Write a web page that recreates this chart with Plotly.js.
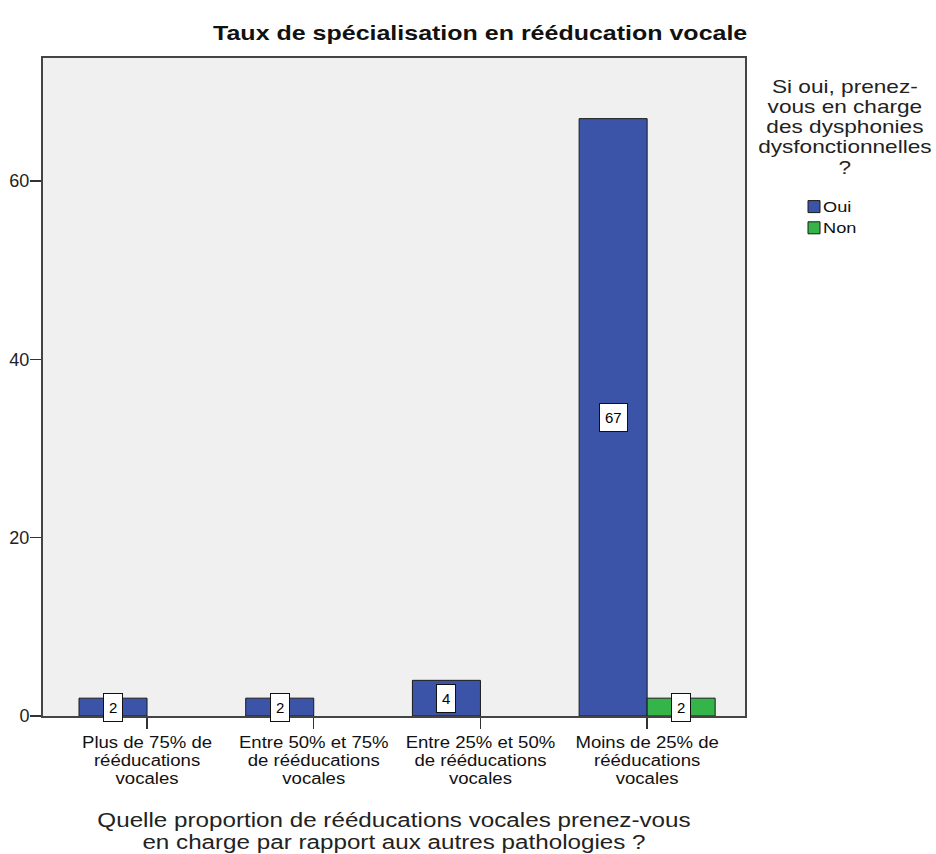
<!DOCTYPE html>
<html><head><meta charset="utf-8">
<script src="https://cdn.plot.ly/plotly-3.0.1.min.js"></script>
<style>body{margin:0;background:#fff}#c{width:936px;height:854px}</style>
</head><body><div id="c"></div>
<script>
const categories = ["Plus de 75% de<br>rééducations<br>vocales","Entre 50% et 75%<br>de rééducations<br>vocales","Entre 25% et 50%<br>de rééducations<br>vocales","Moins de 25% de<br>rééducations<br>vocales"];
const oui = [2, 2, 4, 67];
const non = [null, null, null, 2];
const seriesNames = ["Oui", "Non"];
const legendTitle = 'Si oui, prenez-<br>vous en charge<br>des dysphonies<br>dysfonctionnelles<br>?';
const xTitle = 'Quelle proportion de rééducations vocales prenez-vous<br>en charge par rapport aux autres pathologies ?';
const chartTitle = 'Taux de spécialisation en rééducation vocale';
const yTicks = [0, 20, 40, 60];
const colors = ["#3c54a8", "#35b44a"];
const idx = categories.map((_, i) => i);
const barW = 0.408;
const FONT = 'Liberation Sans, Arial, sans-serif';

const traces = [oui, non].map((vals, k) => ({
  type: 'bar', x: idx, y: vals, name: seriesNames[k],
  marker: {color: colors[k], line: {color: '#1a1a1a', width: 1}},
  hoverinfo: 'skip'
}));

const annotations = [];
[oui, non].forEach((vals, k) => {
  vals.forEach((v, i) => {
    if (v) annotations.push({
      x: i + (k === 0 ? -barW/2 : barW/2), y: v/2, xref: 'x', yref: 'y',
      text: String(v), showarrow: false, bgcolor: '#ffffff', bordercolor: '#111',
      borderwidth: 1, borderpad: 5, font: {family: FONT, size: 15, color: '#000'}
    });
  });
});
const legendTitleIndex = annotations.length;
annotations.push({
  xref: 'paper', yref: 'paper', x: (845-43)/702, y: (716-74)/658, xanchor: 'center', yanchor: 'top',
  text: legendTitle, showarrow: false, align: 'center',
  font: {family: FONT, size: 19, color: '#222'}
});

const layout = {
  width: 936, height: 854,
  margin: {l: 43, r: 191, t: 58, b: 138},
  paper_bgcolor: '#ffffff', plot_bgcolor: '#f0f0f0',
  title: {text: '<b>' + chartTitle + '</b>', x: 0.513, xanchor: 'center', y: 0.962, yanchor: 'middle',
    font: {family: FONT, size: 21, color: '#111'}},
  barmode: 'group', bargap: 0.184, bargroupgap: 0,
  showlegend: true,
  legend: {x: (794-43)/702, xanchor: 'left', y: (716-191)/658, yanchor: 'top', bgcolor: 'rgba(0,0,0,0)',
    font: {family: FONT, size: 14, color: '#111'}, tracegroupgap: 0, itemwidth: 30},
  xaxis: {
    range: [-0.624, 3.587], tickmode: 'array', tickvals: idx, ticktext: categories,
    ticks: 'outside', ticklen: 11, tickwidth: 1.5, tickcolor: '#333',
    showline: true, linecolor: '#444', linewidth: 2, mirror: true, showgrid: false, zeroline: false,
    tickfont: {family: FONT, size: 16, color: '#111'},
    title: {text: xTitle, font: {family: FONT, size: 20, color: '#222'}, standoff: 23}
  },
  yaxis: {
    range: [0, 73.8], tickvals: yTicks, ticks: 'outside', ticklen: 11, tickwidth: 1.5, tickcolor: '#333',
    showline: true, linecolor: '#444', linewidth: 2, mirror: true, showgrid: false, zeroline: false,
    ticklabelstandoff: -3,
    tickfont: {family: FONT, size: 18, color: '#222'}
  },
  annotations: annotations
};

function stretchText(el, factor, lineEm) {
  const lines = el.querySelectorAll('tspan.line');
  if (lines.length) {
    lines.forEach((ln, i) => {
      if (lineEm != null) ln.setAttribute('dy', (i * lineEm) + 'em');
      const w = ln.getComputedTextLength();
      ln.setAttribute('textLength', (w * factor).toFixed(1));
      ln.setAttribute('lengthAdjust', 'spacingAndGlyphs');
    });
  } else {
    const w = el.getComputedTextLength();
    el.setAttribute('textLength', (w * factor).toFixed(1));
    el.setAttribute('lengthAdjust', 'spacingAndGlyphs');
  }
}
function shiftY(el, dy) {
  [el, ...el.querySelectorAll('tspan.line')].forEach(n => {
    const y = parseFloat(n.getAttribute('y'));
    if (!isNaN(y)) n.setAttribute('y', y + dy);
  });
}

Plotly.newPlot('c', traces, layout, {displayModeBar: false, staticPlot: true}).then(gd => {
  gd.querySelectorAll('.gtitle').forEach(t => stretchText(t, 1.19));
  gd.querySelectorAll('.xaxislayer-above .xtick text').forEach(t => stretchText(t, 1.16, 1.12));
  gd.querySelectorAll('.g-xtitle text').forEach(t => { stretchText(t, 1.21, 1.1); shiftY(t, 3); });
  gd.querySelectorAll('.annotation[data-index="' + legendTitleIndex + '"] text').forEach(t => stretchText(t, 1.19, 1.06));
  gd.querySelectorAll('.legendtext').forEach(t => { t.setAttribute('x', 29); stretchText(t, 1.3); });
});
</script></body></html>
